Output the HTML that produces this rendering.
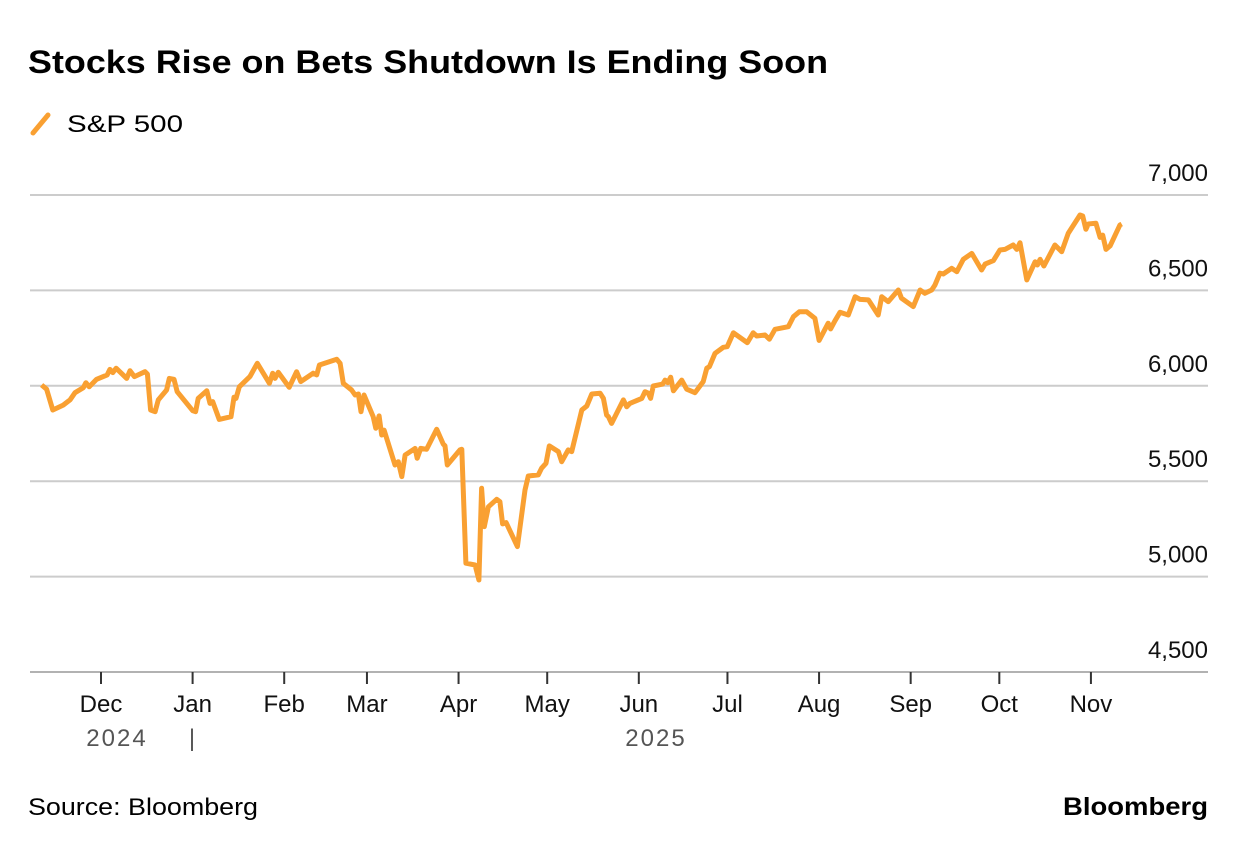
<!DOCTYPE html>
<html><head><meta charset="utf-8"><style>
body{margin:0;background:#fff;width:1237px;height:848px;overflow:hidden;font-family:"Liberation Sans",sans-serif;}
svg{position:absolute;left:0;top:0}
</style></head><body>
<svg width="1237" height="848">
<text x="28" y="73" font-size="32" font-weight="bold" fill="#000" textLength="800" lengthAdjust="spacingAndGlyphs">Stocks Rise on Bets Shutdown Is Ending Soon</text>
<g>
<line x1="33" y1="133" x2="48" y2="115" stroke="#f9a032" stroke-width="5" stroke-linecap="round"/>
<text x="67" y="132" font-size="24" fill="#000" textLength="116" lengthAdjust="spacingAndGlyphs">S&amp;P 500</text></g>
<g id="grid"></g><g id="xax"></g>
<path id="line" fill="none" stroke="#f9a032" stroke-width="5" stroke-linejoin="round"/>
<text x="28" y="815" font-size="24" fill="#000" textLength="230" lengthAdjust="spacingAndGlyphs">Source: Bloomberg</text>
<text x="1063" y="815" font-size="25" font-weight="bold" fill="#000" textLength="145" lengthAdjust="spacingAndGlyphs">Bloomberg</text>
</svg>
<script>
// days since 2024-12-01
const days=[-20.1,-18.4,-16.3,-12.8,-10.5,-8.8,-6.0,-5.1,-4.0,-1.5,2.1,3.0,4.0,5.1,8.7,9.8,11.3,14.9,15.7,16.8,18.3,19.4,22.2,23.1,24.7,25.8,31.0,32.0,32.9,35.8,36.9,37.8,40.0,44.0,45.0,45.7,46.8,50.4,52.9,57.0,58.1,58.9,60.0,63.7,66.2,67.6,71.8,73.0,73.9,79.8,80.9,82.0,84.8,86.0,87.1,88.0,89.0,92.1,93.0,94.1,95.0,95.8,99.5,100.6,101.8,102.9,106.3,107.0,108.2,110.2,113.6,115.8,116.4,117.2,121.5,122.1,123.5,126.6,127.9,128.8,129.7,131.1,133.9,135.0,135.9,137.1,140.9,143.5,144.6,148.0,149.1,150.6,151.7,154.8,155.9,158.1,159.3,162.7,164.4,166.1,168.9,170.0,171.1,171.7,172.8,176.8,177.9,179.0,183.0,184.1,185.2,186.0,186.9,190.1,190.9,191.8,192.8,193.7,196.5,198.2,201.0,203.8,205.0,205.9,207.8,210.6,211.9,214.0,218.7,220.7,221.9,224.7,226.2,228.1,232.6,234.3,236.3,238.8,241.6,243.0,246.1,246.9,248.4,250.1,252.9,255.2,256.9,259.7,263.0,264.2,266.4,269.8,270.9,274.9,277.2,278.8,281.1,282.2,283.9,285.0,287.9,289.6,291.8,294.7,298.0,299.2,302.0,304.2,305.9,308.7,309.9,311.0,313.3,316.1,316.9,317.8,319.1,322.8,325.1,327.3,331.3,332.2,333.3,334.1,336.7,338.1,339.0,340.1,341.5,344.8,345.4];
const values=[6004,5982,5873,5899,5926,5964,5990,6016,5995,6034,6057,6086,6069,6092,6039,6079,6048,6074,6062,5873,5864,5926,5978,6039,6034,5969,5870,5864,5934,5974,5908,5917,5824,5838,5940,5934,5995,6048,6118,6013,6066,6039,6071,5992,6074,6022,6066,6057,6109,6139,6118,6013,5978,5952,5957,5864,5952,5838,5777,5842,5742,5768,5585,5602,5524,5637,5672,5620,5672,5667,5772,5695,5685,5585,5664,5667,5070,5061,4982,5463,5262,5366,5405,5393,5276,5283,5157,5454,5527,5533,5568,5594,5685,5655,5602,5664,5655,5873,5894,5957,5961,5934,5847,5838,5803,5926,5890,5908,5934,5969,5961,5934,5999,6009,6030,6016,6045,5974,6030,5982,5964,6022,6092,6100,6170,6202,6205,6278,6226,6278,6261,6266,6244,6296,6310,6362,6388,6388,6354,6238,6328,6298,6341,6385,6371,6467,6453,6450,6371,6467,6441,6502,6459,6415,6502,6485,6502,6528,6590,6586,6616,6598,6663,6694,6607,6638,6656,6712,6715,6738,6715,6750,6555,6650,6633,6663,6628,6738,6703,6799,6895,6890,6820,6848,6852,6778,6790,6715,6733,6843,6848];
const yTicks=[4500,5000,5500,6000,6500,7000];
const yTickLabels=["4,500","5,000","5,500","6,000","6,500","7,000"];
const monthDays=[0,31,62,90,121,151,182,212,243,274,304,335];
const monthLabels=["Dec","Jan","Feb","Mar","Apr","May","Jun","Jul","Aug","Sep","Oct","Nov"];
const NS="http://www.w3.org/2000/svg";
const xs=d=>101+d*2.955;
const ys=v=>672-(v-4500)*0.1908;
const grid=document.getElementById('grid'),xax=document.getElementById('xax');
function mk(tag,attrs,parent,text){const e=document.createElementNS(NS,tag);for(const k in attrs)e.setAttribute(k,attrs[k]);if(text!==undefined)e.textContent=text;parent.appendChild(e);return e;}
yTicks.forEach((t,i)=>{
 const l=mk('line',{x1:30,x2:1208,y1:ys(t),y2:ys(t),stroke:i==0?'#999':'#ccc','stroke-width':i==0?1.5:2},grid);
 
 
 const tx=mk('text',{x:1208,y:ys(t)-14,'font-size':24,'text-anchor':'end',fill:'#111'},grid,yTickLabels[i]);
 
 
});
monthDays.forEach((d,i)=>{
 const tk=mk('line',{x1:xs(d),x2:xs(d),y1:672,y2:684,stroke:'#333','stroke-width':2},xax);
 
 
 const tx=mk('text',{x:xs(d),y:712,'font-size':24,'text-anchor':'middle',fill:'#111'},xax,monthLabels[i]);
 
 
});
const y1=mk('text',{x:117,y:746,'font-size':24,'text-anchor':'middle',fill:'#555','letter-spacing':'2'},xax,'2024');


const sep=mk('text',{x:192,y:746,'font-size':24,'text-anchor':'middle',fill:'#555'},xax,'|');


const y2=mk('text',{x:656,y:746,'font-size':24,'text-anchor':'middle',fill:'#555','letter-spacing':'2'},xax,'2025');


document.getElementById('line').setAttribute('d',days.map((d,i)=>(i?'L':'M')+xs(d).toFixed(1)+','+ys(values[i]).toFixed(1)).join(''));
</script>
</body></html>
